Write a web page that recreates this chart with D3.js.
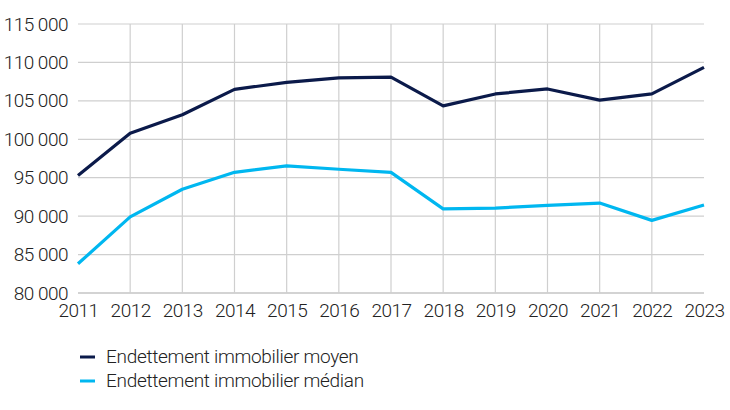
<!DOCTYPE html>
<html>
<head>
<meta charset="utf-8">
<script src="https://cdn.jsdelivr.net/npm/d3@7"></script>
<style>
  body { margin: 0; background: #fff; }
  svg { display: block; font-family: "Roboto", sans-serif; font-weight: 300; }
</style>
</head>
<body>
<div id="chart"></div>
<script>
// Data
const years = [2011, 2012, 2013, 2014, 2015, 2016, 2017, 2018, 2019, 2020, 2021, 2022, 2023];
const moyen = [95300, 100800, 103200, 106500, 107400, 108000, 108100, 104350, 105900, 106550, 105100, 105900, 109350];
const median = [83800, 89900, 93500, 95700, 96550, 96100, 95700, 90950, 91050, 91400, 91700, 89450, 91450];
const yTicks = [80000, 85000, 90000, 95000, 100000, 105000, 110000, 115000];
const seriesNames = ["Endettement immobilier moyen", "Endettement immobilier médian"];
const colors = ["#0b1a4a", "#00b7f0"];

const chart = {
  margin: { top: 24, right: 26, bottom: 117, left: 78 },
  width: 730,
  height: 410
};
const w = chart.width - chart.margin.left - chart.margin.right;
const h = chart.height - chart.margin.top - chart.margin.bottom;

const svg = d3.select("#chart")
  .append("svg")
  .attr("width", chart.width)
  .attr("height", chart.height);

const g = svg.append("g")
  .attr("transform", "translate(" + chart.margin.left + "," + chart.margin.top + ")");

const x = d3.scaleLinear()
  .domain([2011, 2023])
  .range([0, w]);

const y = d3.scaleLinear()
  .domain([80000, 115000])
  .range([h, 0]);

const fmt = d => d3.format(",")(d).replace(",", " ");

// horizontal grid
g.append("g")
  .selectAll("line")
  .data(yTicks)
  .enter()
  .append("line")
  .attr("x1", 0)
  .attr("x2", w)
  .attr("y1", d => y(d))
  .attr("y2", d => y(d))
  .attr("stroke", d => d === 80000 ? "#a8a8a8" : "#cfcfcf")
  .attr("stroke-width", 1.2);

// vertical grid
g.append("g")
  .selectAll("line")
  .data(years.slice(1, -1))
  .enter()
  .append("line")
  .attr("x1", d => x(d))
  .attr("x2", d => x(d))
  .attr("y1", 0)
  .attr("y2", h)
  .attr("stroke", "#cfcfcf")
  .attr("stroke-width", 1.2);

// Y axis labels
const yAxis = g.append("g")
  .call(d3.axisLeft(y).tickValues(yTicks).tickFormat(fmt).tickSize(0).tickPadding(10));
yAxis.select(".domain").remove();
yAxis.selectAll("text")
  .attr("font-family", "Roboto, sans-serif")
  .attr("font-weight", 300)
  .attr("font-size", "19px")
  .attr("letter-spacing", "-0.5px")
  .attr("fill", "#222");

// X axis labels
const xAxis = g.append("g")
  .attr("transform", "translate(0," + h + ")")
  .call(d3.axisBottom(x).tickValues(years).tickFormat(d3.format("d")).tickSize(0).tickPadding(11));
xAxis.select(".domain").remove();
xAxis.selectAll("text")
  .attr("font-family", "Roboto, sans-serif")
  .attr("font-weight", 300)
  .attr("font-size", "19px")
  .attr("letter-spacing", "-0.5px")
  .attr("fill", "#222");

// lines
const line = d3.line()
  .x((d, i) => x(years[i]))
  .y(d => y(d));

[moyen, median].forEach((s, k) => {
  g.append("path")
    .datum(s)
    .attr("d", line)
    .attr("fill", "none")
    .attr("stroke", colors[k])
    .attr("stroke-width", 3.2)
    .attr("stroke-linejoin", "round");
});

// legend
const legend = svg.selectAll(".legend")
  .data(seriesNames)
  .enter()
  .append("g")
  .attr("class", "legend")
  .attr("transform", (d, i) => `translate(80,${357 + i * 24})`);

legend.append("line")
  .attr("x1", 0)
  .attr("x2", 15)
  .attr("stroke", (d, i) => colors[i])
  .attr("stroke-width", 3);

legend.append("text")
  .attr("x", 26)
  .attr("y", 6)
  .attr("font-size", "19px")
  .attr("font-weight", 300)
  .attr("letter-spacing", "-0.3px")
  .attr("fill", "#222")
  .text(d => d);
</script>
</body>
</html>
